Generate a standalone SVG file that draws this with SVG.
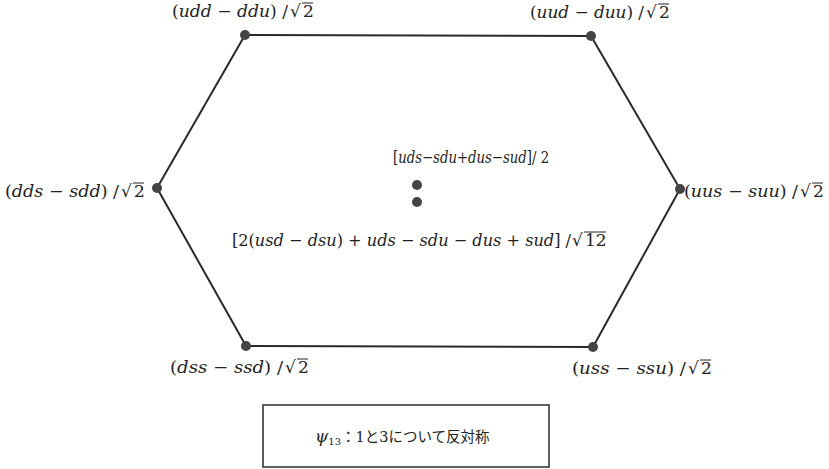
<svg xmlns="http://www.w3.org/2000/svg" width="829" height="469" viewBox="0 0 829 469">
<style>
.t{font-family:'DejaVu Serif','Liberation Serif',serif;font-size:17px;fill:#222}
.i{font-style:italic}
.e{stroke:#2a2a2a;stroke-width:2;fill:none}
.d{fill:#444}
.v{stroke:#222;stroke-width:1}
.j{font-family:'DejaVu Serif','Noto Sans CJK JP',serif;font-size:14.5px;fill:#222}
</style>
<rect width="829" height="469" fill="#fff"/>
<g id="edges">
<polygon class="e" points="245,35 591,36 680,189 593,347 246,346 157,188"/>
</g>
<g id="n-udd">
<circle class="d" cx="245" cy="35" r="5"/>
<text class="t" x="172" y="17" textLength="116" lengthAdjust="spacingAndGlyphs">(<tspan class="i">udd</tspan> − <tspan class="i">ddu</tspan>) /</text>
<text class="t" x="290" y="17">√</text><text class="t" x="303" y="17">2</text><line class="v" x1="302" y1="3" x2="313" y2="3"/>
</g>
<g id="n-uud">
<circle class="d" cx="591" cy="36" r="5"/>
<text class="t" x="530" y="18" textLength="114" lengthAdjust="spacingAndGlyphs">(<tspan class="i">uud</tspan> − <tspan class="i">duu</tspan>) /</text>
<text class="t" x="646" y="18">√</text><text class="t" x="659" y="18">2</text><line class="v" x1="658" y1="4" x2="669" y2="4"/>
</g>
<g id="n-dds">
<circle class="d" cx="157" cy="188" r="5"/>
<text class="t" x="5" y="197" textLength="114" lengthAdjust="spacingAndGlyphs">(<tspan class="i">dds</tspan> − <tspan class="i">sdd</tspan>) /</text>
<text class="t" x="121" y="197">√</text><text class="t" x="134" y="197">2</text><line class="v" x1="133" y1="183" x2="144" y2="183"/>
</g>
<g id="n-uus">
<circle class="d" cx="680" cy="189" r="5"/>
<text class="t" x="684" y="197" textLength="114" lengthAdjust="spacingAndGlyphs">(<tspan class="i">uus</tspan> − <tspan class="i">suu</tspan>) /</text>
<text class="t" x="800" y="197">√</text><text class="t" x="813" y="197">2</text><line class="v" x1="812" y1="183" x2="823" y2="183"/>
</g>
<g id="n-dss">
<circle class="d" cx="246" cy="346" r="5"/>
<text class="t" x="170" y="373" textLength="113" lengthAdjust="spacingAndGlyphs">(<tspan class="i">dss</tspan> − <tspan class="i">ssd</tspan>) /</text>
<text class="t" x="285" y="373">√</text><text class="t" x="298" y="373">2</text><line class="v" x1="297" y1="359" x2="308" y2="359"/>
</g>
<g id="n-uss">
<circle class="d" cx="593" cy="347" r="5"/>
<text class="t" x="572" y="374" textLength="114" lengthAdjust="spacingAndGlyphs">(<tspan class="i">uss</tspan> − <tspan class="i">ssu</tspan>) /</text>
<text class="t" x="688" y="374">√</text><text class="t" x="701" y="374">2</text><line class="v" x1="700" y1="360" x2="711" y2="360"/>
</g>
<g id="n-center">
<text class="t" transform="translate(393,163) scale(0.78,1)" x="0" y="0" font-size="13">[<tspan class="i">uds</tspan>−<tspan class="i">sdu</tspan>+<tspan class="i">dus</tspan>−<tspan class="i">sud</tspan>]/ 2</text>
<circle class="d" cx="417" cy="185" r="5"/>
<circle class="d" cx="417" cy="202" r="5"/>
<text class="t" x="232" y="246" textLength="339" lengthAdjust="spacingAndGlyphs">[2(<tspan class="i">usd</tspan> − <tspan class="i">dsu</tspan>) + <tspan class="i">uds</tspan> − <tspan class="i">sdu</tspan> − <tspan class="i">dus</tspan> + <tspan class="i">sud</tspan>] /</text>
<text class="t" x="572" y="246">√</text><text class="t" x="585" y="246">12</text><line class="v" x1="584" y1="232" x2="606" y2="232"/>
</g>
<g id="caption">
<rect x="263" y="405" width="286" height="62" fill="none" stroke="#2a2a2a" stroke-width="1.5"/>
<text class="j" x="315" y="442"><tspan class="i" font-size="17">ψ</tspan><tspan font-size="10" dy="3">13</tspan><tspan dy="-3">：1と3について反対称</tspan></text>
</g>
</svg>
